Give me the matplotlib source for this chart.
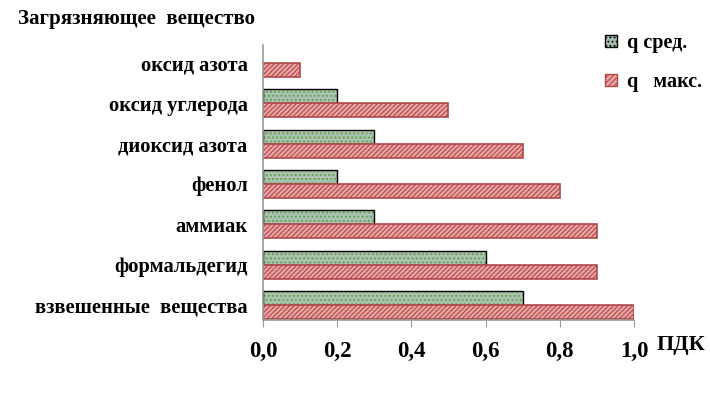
import numpy as np
import matplotlib.pyplot as plt
from matplotlib.patches import Patch

plt.rcParams['font.family'] = ['Liberation Serif', 'DejaVu Serif']
plt.rcParams['font.weight'] = 'bold'
plt.rcParams['hatch.linewidth'] = 0.8

substances = ["взвешенные  вещества", "формальдегид", "аммиак", "фенол",
              "диоксид азота", "оксид углерода", "оксид азота"]
q_avg = [0.7, 0.6, 0.3, 0.2, 0.3, 0.2, 0.0]
q_max = [1.0, 0.9, 0.9, 0.8, 0.7, 0.5, 0.1]
x_ticks = [0.0, 0.2, 0.4, 0.6, 0.8, 1.0]
x_tick_labels = ["0,0", "0,2", "0,4", "0,6", "0,8", "1,0"]

green_face = "#a6c2b0"
green_dots = "#6a9a3a"
red_face = "#eaa4a4"
red_edge = "#b04848"

fig = plt.figure(figsize=(7.1, 3.93), dpi=100)
ax = fig.add_axes([0.3704, 0.1858, 0.5225, 0.6994])

y = np.arange(len(substances))
h = 0.345

# green bars: dotted fill, black outline
ax.barh(y + h / 2, q_avg, height=h, color=green_face, edgecolor=green_dots,
        hatch="....", linewidth=0)
ax.barh(y + h / 2, [v if v > 0 else np.nan for v in q_avg], height=h,
        fill=False, edgecolor="black", linewidth=1.0)
# red bars: hatched
ax.barh(y - h / 2, q_max, height=h, color=red_face, edgecolor=red_edge,
        hatch="///////", linewidth=1.2)

ax.set_xlim(0, 1.0)
ax.set_ylim(-0.37, 6.44)
ax.set_xticks(x_ticks)
ax.set_xticklabels(x_tick_labels, fontsize=16.5, fontweight="bold")
ax.set_yticks(y)
ax.set_yticklabels(substances, fontsize=14.8, fontweight="bold")
ax.tick_params(axis="y", length=0, pad=11)
ax.tick_params(axis="x", length=5, color="#999999", direction="out", pad=10)

for s in ["top", "right"]:
    ax.spines[s].set_visible(False)
for s in ["left", "bottom"]:
    ax.spines[s].set_color("#999999")
    ax.spines[s].set_linewidth(1.2)

fig.text(0.025, 0.952, "Загрязняющее  вещество", fontsize=15, fontweight="bold",
         ha="left", va="center")
fig.text(0.959, 0.122, "ПДК", fontsize=16, fontweight="bold", ha="center", va="center")

handles = [Patch(facecolor=green_face, edgecolor="black", hatch="...."),
           Patch(facecolor=red_face, edgecolor=red_edge, hatch="//////")]
leg = fig.legend(handles, ["q сред.", "q   макс."], loc="upper left",
                 bbox_to_anchor=(0.826, 0.962), frameon=False, handlelength=0.6,
                 handleheight=0.6, handletextpad=0.5, labelspacing=0.95,
                 prop={"size": 14.5, "weight": "bold"})

fig.savefig("out.png", dpi=100)
